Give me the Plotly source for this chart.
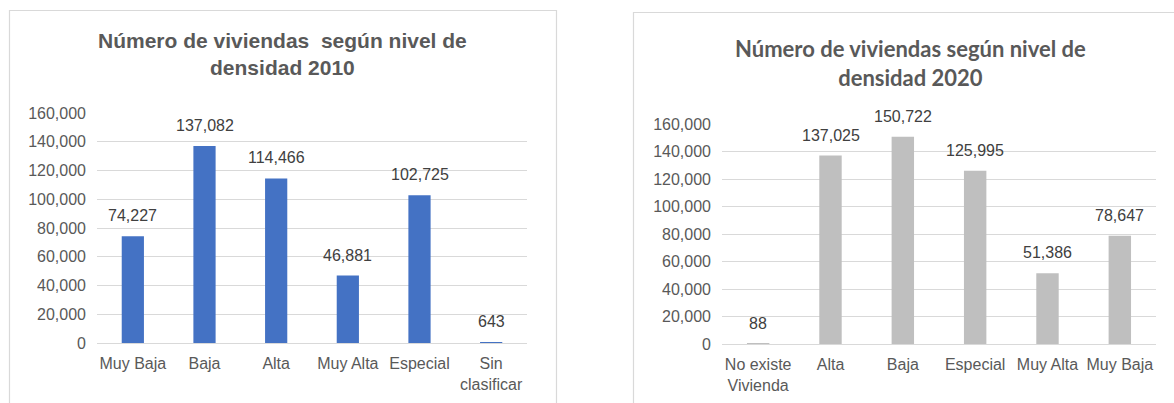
import plotly.graph_objects as go

W, H = 1174, 403

# 2010 data
cat_2010 = ["Muy Baja", "Baja", "Alta", "Muy Alta", "Especial", "Sin<br>clasificar"]
val_2010 = [74227, 137082, 114466, 46881, 102725, 643]

# 2020 data
cat_2020 = ["No existe<br>Vivienda", "Alta", "Baja", "Especial", "Muy Alta", "Muy Baja"]
val_2020 = [88, 137025, 150722, 125995, 51386, 78647]

y_ticks = [0, 20000, 40000, 60000, 80000, 100000, 120000, 140000, 160000]
y_tick_text = ["0", "20,000", "40,000", "60,000", "80,000", "100,000", "120,000", "140,000", "160,000"]

title_2010 = "Número de viviendas  según nivel de<br>densidad 2010"
title_2020 = "Número de viviendas según nivel de<br>densidad 2020"

FONT = "Arial, Liberation Sans, sans-serif"
TICK_COLOR = "#595959"
LABEL_COLOR = "#404040"
GRID = "#d9d9d9"


def px_x(p):
    return p / W


def px_y(p):
    return 1 - p / H


fig = go.Figure()

fig.add_trace(go.Bar(x=cat_2010, y=val_2010, marker=dict(color="#4472c4", line=dict(width=0)),
                     width=0.31, xaxis="x", yaxis="y", hoverinfo="x+y"))
fig.add_trace(go.Bar(x=cat_2020, y=val_2020, marker=dict(color="#bfbfbf", line=dict(width=0)),
                     width=0.31, xaxis="x2", yaxis="y2", hoverinfo="x+y"))

annotations = []
for xa, ya, cats, vals in (("x", "y", cat_2010, val_2010), ("x2", "y2", cat_2020, val_2020)):
    for c, v in zip(cats, vals):
        annotations.append(dict(x=c, y=v, xref=xa, yref=ya, text=f"{v:,}", showarrow=False,
                                yanchor="bottom", yshift=10,
                                font=dict(family=FONT, size=16, color=LABEL_COLOR)))

annotations.append(dict(x=px_x(282), y=px_y(27), xref="paper", yref="paper", text=title_2010,
                        showarrow=False, xanchor="center", yanchor="top", align="center",
                        font=dict(family=FONT, size=21, color=TICK_COLOR, weight="bold")))
annotations.append(dict(x=px_x(910), y=px_y(33), xref="paper", yref="paper", text=title_2020,
                        showarrow=False, xanchor="center", yanchor="top", align="center",
                        font=dict(family="Lato, sans-serif", size=22, color=TICK_COLOR, weight="bold")))

shapes = [
    dict(type="rect", xref="paper", yref="paper", x0=px_x(9.5), x1=px_x(556.5), y0=px_y(410), y1=px_y(10.5),
         line=dict(color=GRID, width=1.2), layer="below"),
    dict(type="rect", xref="paper", yref="paper", x0=px_x(633.5), x1=px_x(1190), y0=px_y(410), y1=px_y(12.5),
         line=dict(color=GRID, width=1.2), layer="below"),
]

common_y = dict(range=[0, 160000], tickvals=y_ticks, ticktext=y_tick_text, showgrid=True,
                gridcolor=GRID, gridwidth=1.2, zeroline=False, showline=False, ticks="",
                ticklabelstandoff=10, tickfont=dict(family=FONT, size=16, color=TICK_COLOR),
                fixedrange=True, automargin=False)
common_x = dict(type="category", showgrid=False, zeroline=False, showline=True, linecolor=GRID,
                linewidth=1.2, ticks="", ticklabelstandoff=6,
                tickfont=dict(family=FONT, size=16, color=TICK_COLOR), fixedrange=True,
                automargin=False)

fig.update_layout(
    width=W, height=H,
    margin=dict(l=0, r=0, t=0, b=0, pad=0),
    paper_bgcolor="white", plot_bgcolor="white",
    showlegend=False,
    bargap=0.69,
    xaxis=dict(domain=[px_x(97), px_x(527)], anchor="y", **common_x),
    yaxis=dict(domain=[px_y(343), px_y(113)], anchor="x", **common_y),
    xaxis2=dict(domain=[px_x(722), px_x(1156)], anchor="y2", **common_x),
    yaxis2=dict(domain=[px_y(344), px_y(124)], anchor="x2", **common_y),
    annotations=annotations,
    shapes=shapes,
)

fig.write_html("out.html")
